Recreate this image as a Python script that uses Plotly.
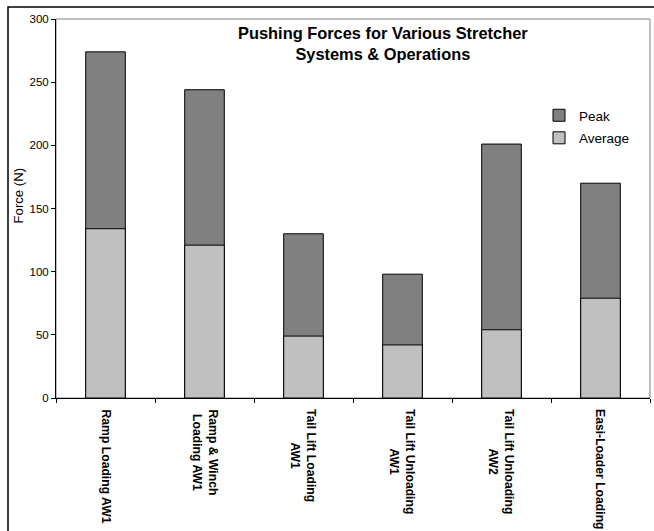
import plotly.graph_objects as go

# Stretcher system / operation categories
categories = [
    "Ramp Loading AW1",
    "Ramp & Winch<br>Loading AW1",
    "Tail Lift Loading<br>AW1",
    "Tail Lift Unloading<br>AW1",
    "Tail Lift Unloading<br>AW2",
    "Easi-Loader Loading",
]
# Pushing forces in newtons
peak_force = [274, 244, 130, 98, 201, 170]
average_force = [134, 121, 49, 42, 54, 79]

W, H = 654, 531
L, R, T, B = 56, 650, 19, 398  # plot area in pixels
pw, ph = R - L, B - T

def px(x):
    return (x - L) / pw

def py(y):
    return (B - y) / ph

FONT = "Liberation Sans, Arial, sans-serif"

fig = go.Figure()
fig.add_trace(go.Bar(
    x=categories, y=peak_force, name="Peak", legendgroup="peak",
    marker=dict(color="#808080", line=dict(color="black", width=1)),
    width=0.4,
))
fig.add_trace(go.Bar(
    x=categories, y=average_force, name="Average", legendgroup="average",
    marker=dict(color="#C0C0C0", line=dict(color="black", width=1)),
    width=0.4,
))

# rotated, centre-aligned category labels under the axis
label_annotations = [
    dict(text=f"<b>{c}</b>", x=c, xref="x", yref="paper", y=py(407),
         xanchor="center", yanchor="top", textangle=90, align="center",
         showarrow=False, font=dict(family=FONT, size=12.2, color="black"))
    for c in categories
]

fig.update_layout(
    width=W, height=H,
    margin=dict(l=L, r=W - R, t=T, b=H - B, pad=0),
    barmode="overlay",
    paper_bgcolor="white", plot_bgcolor="white",
    font=dict(family=FONT, size=11, color="black"),
    showlegend=True,
    legend=dict(
        x=px(539), y=py(100), xanchor="left", yanchor="top",
        bgcolor="rgba(0,0,0,0)", font=dict(family=FONT, size=13.5),
        tracegroupgap=2,
    ),
    xaxis=dict(
        showline=True, linecolor="black", linewidth=1,
        ticks="outside", ticklen=4, tickcolor="black",
        tickson="boundaries", showticklabels=False,
        showgrid=False,
    ),
    yaxis=dict(
        range=[0, 300], dtick=50,
        showline=True, linecolor="black", linewidth=1,
        ticks="outside", ticklen=4, tickcolor="black",
        tickfont=dict(family=FONT, size=11.5),
        showgrid=False, zeroline=False,
    ),
    shapes=[
        # plot-area frame
        dict(type="rect", xref="paper", yref="paper", x0=0, x1=1, y0=0, y1=1,
             line=dict(color="#808080", width=1), layer="below"),
        # outer chart frame
        dict(type="rect", xref="paper", yref="paper",
             x0=px(8), x1=px(662), y0=py(7), y1=py(560),
             line=dict(color="black", width=1.5)),
    ],
    annotations=[
        dict(text="<b>Pushing Forces for Various Stretcher<br>Systems & Operations</b>",
             xref="paper", yref="paper", x=px(383), y=py(43),
             xanchor="center", yanchor="middle", align="center", showarrow=False,
             font=dict(family=FONT, size=16.4, color="black")),
        dict(text="Force (N)", xref="paper", yref="paper",
             x=px(18), y=py(195.5), textangle=-90, showarrow=False,
             xanchor="center", yanchor="middle",
             font=dict(family=FONT, size=13.2)),
    ] + label_annotations,
)

fig.write_html("out.html")
